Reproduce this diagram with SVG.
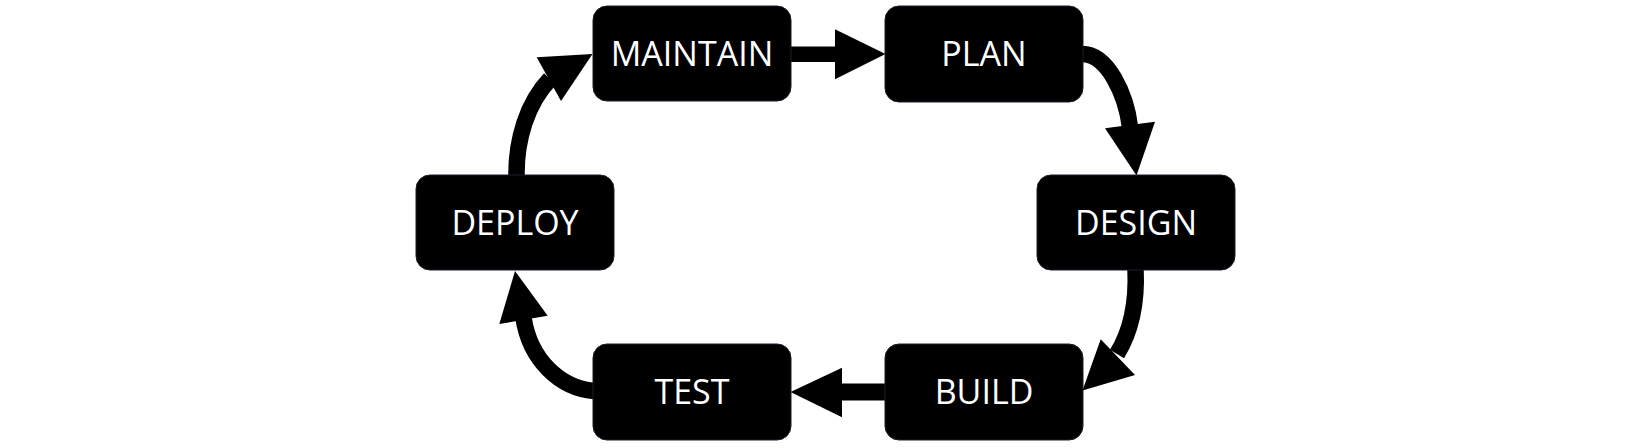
<svg xmlns="http://www.w3.org/2000/svg" width="1650" height="448" viewBox="0 0 1650 448">
<style>
.box{fill:#000;stroke:#1a1f2b;stroke-width:1}
.lbl{fill:#fff;font-family:"Open Sans","Noto Sans","Liberation Sans",sans-serif;font-size:34px;text-anchor:middle}
.shaft{fill:none;stroke:#000;stroke-width:16.5}
.head{fill:#000}
</style>
<rect width="1650" height="448" fill="#fff"/>
<g id="connectors">
<rect x="789" y="46.5" width="48" height="15.5" fill="#000"/>
<polygon class="head" points="835,29.3 885.5,54 835,79.3"/>
<path class="shaft" d="M1082,54 C1108,54 1126,95 1130,127"/>
<polygon class="head" points="1105,128.3 1155,121.7 1136.5,175.5"/>
<path class="shaft" d="M1135.5,269 C1137,300 1133,328 1117,354"/>
<polygon class="head" points="1100.7,339.3 1135,375 1082.5,390.5"/>
<rect x="840" y="383.5" width="47" height="17" fill="#000"/>
<polygon class="head" points="842,367.7 790.5,392 842,417.3"/>
<path class="shaft" d="M594,391 C560,388 530,360 523.5,318"/>
<polygon class="head" points="499.3,324 547.7,315.7 515,271"/>
<path class="shaft" d="M516.5,176 C516,140 527,103 550,79"/>
<polygon class="head" points="536.7,57.3 592.5,54 561,101"/>
</g>
<g id="maintain"><rect class="box" x="593" y="6" width="198" height="95" rx="14"/><text class="lbl" x="692" y="66">MAINTAIN</text></g>
<g id="plan"><rect class="box" x="885" y="6" width="198" height="96" rx="14"/><text class="lbl" x="984" y="66">PLAN</text></g>
<g id="design"><rect class="box" x="1037" y="175" width="198" height="95" rx="14"/><text class="lbl" x="1136" y="235">DESIGN</text></g>
<g id="build"><rect class="box" x="885" y="344" width="198" height="96" rx="14"/><text class="lbl" x="984" y="404">BUILD</text></g>
<g id="test"><rect class="box" x="593" y="344" width="198" height="96" rx="14"/><text class="lbl" x="692" y="404">TEST</text></g>
<g id="deploy"><rect class="box" x="416" y="175" width="198" height="95" rx="14"/><text class="lbl" x="515" y="235">DEPLOY</text></g>
</svg>
